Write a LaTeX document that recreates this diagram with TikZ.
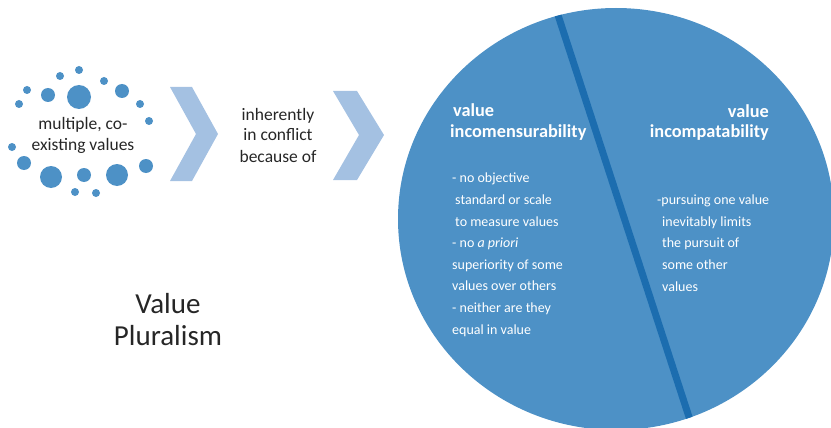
\documentclass[tikz,border=0pt]{standalone}
\usepackage{fontspec}
\setmainfont{Carlito}
\usetikzlibrary{calc}

\definecolor{discblue}{HTML}{4D91C6}
\definecolor{splitblue}{HTML}{1C6DAF}
\definecolor{chevblue}{HTML}{A4C1E2}
\definecolor{inkgray}{HTML}{262626}

\tikzset{
  valuedot/.style={fill=discblue},
  chevron/.style={fill=chevblue},
  plaintext/.style={text=inkgray, inner sep=0pt, align=center, font=\fontsize{17.5}{21}\selectfont},
  headtext/.style={text=white, inner sep=0pt, font=\fontsize{18.3}{20.5}\selectfont\bfseries},
  notetext/.style={text=white, inner sep=0pt, align=left, font=\fontsize{14}{21.6}\selectfont}
}

\begin{document}
\begin{tikzpicture}[x=1pt,y=-1pt]
    \useasboundingbox (0,0) rectangle (831,428);
    % ring of values
    \foreach \px/\py/\pr in {79/70/4, 60/76/4, 104/81/4, 27/90/4, 48/95/7, 79/97/12,
        122/91/7, 19/104/4, 140/104/4, 149/121/4, 12/147/4, 24/163/7, 51/177/11,
        84/175/7, 117/175/11, 146/166/7, 75/192/4, 96/193/4}
        \fill[valuedot] (\px,\py) circle (\pr pt);
    % multi-line nodes sit on the baseline of their last line
    \node[plaintext, anchor=base] (values) at (83,150) {multiple, co-\\existing values};
    % chevrons
    \fill[chevron] (170,87) -- (192,87) -- (218,134) -- (192,181) -- (170,181) -- (196,134) -- cycle;
    \fill[chevron] (333,91) -- (357,91) -- (384,135) -- (357,180) -- (333,180) -- (359,135) -- cycle;
    \node[plaintext, anchor=base] (conflict) at (278,162) {inherently\\in conflict\\because of};
    \node[plaintext, anchor=base, font=\fontsize{29}{32}\selectfont] (title) at (168,345) {Value\\Pluralism};
    % the disc and its split
    \fill[discblue] (616,219) ellipse [x radius=218, y radius=211];
    \begin{scope}
        \clip (616,219) ellipse [x radius=218, y radius=211];
        \draw[splitblue, line width=7pt] (557,12) -- (690,420);
    \end{scope}
    \node[headtext, align=left, anchor=base west] (incomm) at (450,137) {\hspace*{3pt}value\\incomensurability};
    \node[headtext, align=right, anchor=base east] (incomp) at (769,138) {value\\incompatability};
    \node[notetext, anchor=base west] (incommNotes) at (452,334)
        {- no objective\\\hspace*{3pt}standard or scale\\\hspace*{3pt}to measure values\\- no \textit{a priori}\\superiority of some\\values over others\\- neither are they\\equal in value};
    \node[notetext, anchor=base west] (incompNotes) at (657,291)
        {-pursuing one value\\\hspace*{5pt}inevitably limits\\\hspace*{5pt}the pursuit of\\\hspace*{5pt}some other\\\hspace*{5pt}values};
\end{tikzpicture}
\end{document}
